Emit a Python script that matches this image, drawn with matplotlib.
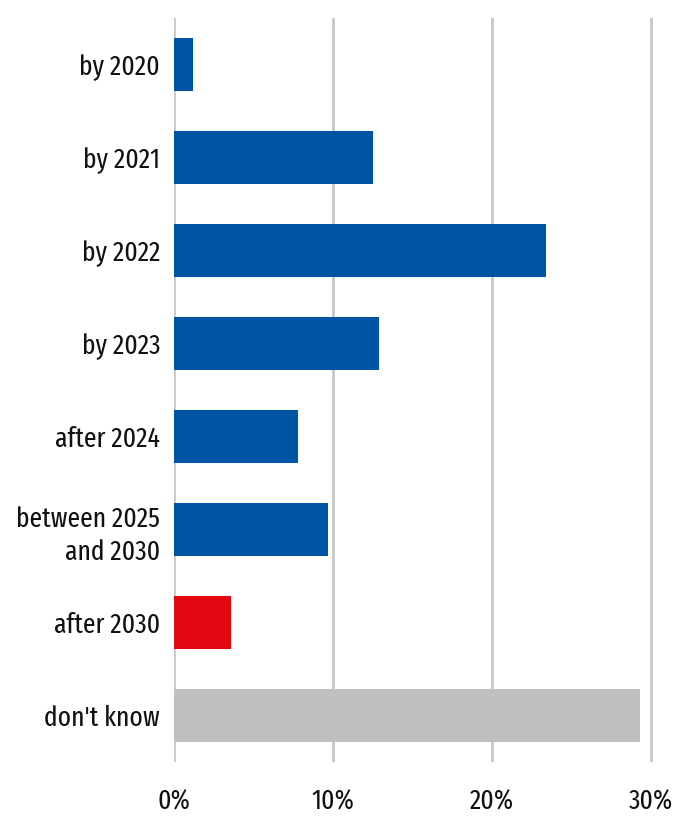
import matplotlib
matplotlib.use("Agg")
import matplotlib.pyplot as plt

# Daten
kategorien = ["by 2020", "by 2021", "by 2022", "by 2023", "after 2024",
              "between 2025\nand 2030", "after 2030", "don't know"]
werte = [1.2, 12.5, 23.4, 12.9, 7.8, 9.7, 3.6, 29.3]
farben = ["#0054A4"] * 6 + ["#E30613", "#BFBFBF"]
xticks = [0, 10, 20, 30]
xtick_labels = ["0%", "10%", "20%", "30%"]

plt.rcParams["font.family"] = ["Fira Sans Extra Condensed", "Fira Sans Condensed", "DejaVu Sans"]

fig = plt.figure(figsize=(6.77, 8.18), dpi=100)
ax = fig.add_axes([0.257, 0.0685, 0.7075, 0.9095])

pos = list(range(len(kategorien)))
ax.barh(pos, werte, height=0.56, color=farben, zorder=3)

ax.set_ylim(len(kategorien) - 0.5, -0.5)
ax.set_xlim(0, 30.1)
ax.set_yticks(pos)
ax.set_yticklabels(kategorien, fontsize=20, linespacing=1.3, color="#111111")
ax.set_xticks(xticks)
ax.set_xticklabels(xtick_labels, fontsize=20, color="#111111")
ax.tick_params(length=0)
ax.tick_params(axis="y", pad=10)
ax.tick_params(axis="x", pad=19)

for s in ax.spines.values():
    s.set_visible(False)
ax.xaxis.grid(True, color="#C8C8C8", linewidth=2, zorder=0)
ax.yaxis.grid(False)

fig.savefig("out.png", dpi=100)
